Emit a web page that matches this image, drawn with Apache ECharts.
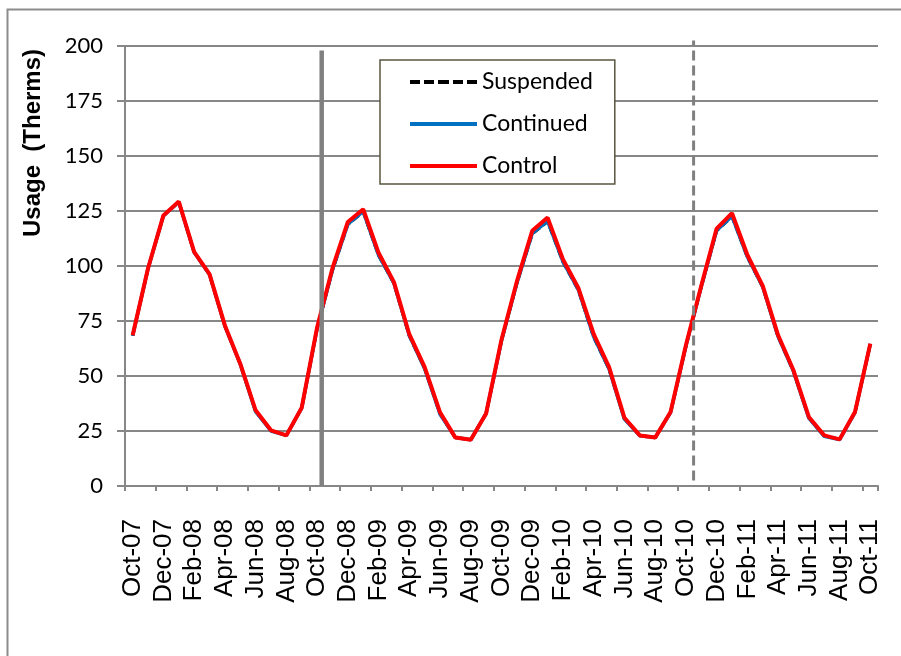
<!DOCTYPE html>
<html>
<head>
<meta charset="utf-8">
<script src="https://cdn.jsdelivr.net/npm/echarts@6/dist/echarts.min.js"></script>
<style>
  html, body { margin: 0; padding: 0; background: #fff; }
  #chart { width: 901px; height: 656px; }
</style>
</head>
<body>
<div id="chart"></div>
<script>
// Monthly gas usage per customer group, Oct 2007 - Oct 2011
const months = [
  'Oct-07','Nov-07','Dec-07','Jan-08','Feb-08','Mar-08','Apr-08','May-08','Jun-08','Jul-08','Aug-08','Sep-08',
  'Oct-08','Nov-08','Dec-08','Jan-09','Feb-09','Mar-09','Apr-09','May-09','Jun-09','Jul-09','Aug-09','Sep-09',
  'Oct-09','Nov-09','Dec-09','Jan-10','Feb-10','Mar-10','Apr-10','May-10','Jun-10','Jul-10','Aug-10','Sep-10',
  'Oct-10','Nov-10','Dec-10','Jan-11','Feb-11','Mar-11','Apr-11','May-11','Jun-11','Jul-11','Aug-11','Sep-11',
  'Oct-11'
];

const suspended = [
  68.3, 98.8, 122.8, 129.0, 106.2, 96.0, 72.6, 55.5, 34.0, 25.2, 23.0, 35.4,
  71.5, 98.0, 118.8, 124.6, 104.8, 92.0, 68.2, 53.4, 32.8, 22.0, 21.0, 33.0,
  66.0, 92.0, 114.6, 120.2, 101.8, 89.0, 67.6, 53.0, 30.6, 23.0, 22.0, 33.4,
  63.5, 90.5, 116.0, 122.4, 104.0, 90.4, 67.8, 52.0, 31.0, 22.8, 21.2, 33.4,
  64.5
];
const continued = [
  68.4, 98.9, 122.9, 129.1, 106.3, 96.1, 72.7, 55.4, 33.8, 25.0, 23.0, 35.5,
  71.6, 98.2, 119.0, 124.8, 104.9, 92.2, 68.4, 53.3, 32.6, 22.0, 21.0, 33.0,
  66.0, 92.2, 114.8, 120.4, 102.0, 89.2, 67.8, 53.2, 30.4, 22.8, 22.0, 33.4,
  63.6, 90.6, 116.2, 122.6, 104.2, 90.5, 67.9, 52.1, 30.8, 22.6, 21.1, 33.4,
  64.6
];
const control = [
  68.5, 99.0, 123.0, 129.3, 106.4, 96.3, 73.0, 55.6, 34.4, 25.3, 23.0, 35.6,
  72.0, 99.0, 120.0, 125.8, 106.0, 92.7, 69.0, 54.0, 33.5, 22.0, 21.0, 33.0,
  66.5, 93.0, 116.0, 122.0, 103.0, 90.0, 69.0, 54.0, 31.0, 23.0, 22.0, 33.6,
  64.0, 91.0, 117.0, 124.0, 105.0, 91.0, 68.5, 52.6, 31.4, 23.0, 21.2, 33.6,
  64.7
];

// Programme milestones, in month units from the start of Oct-07
const solidMarker = [[12.8, 0], [12.8, 198]];
const dashedMarker = [[37, 2.5], [37, 202.5]];

const yTicks = { min: 0, max: 200, interval: 25 };
const yTitle = 'Usage  (Therms)';

const sans = "'Liberation Sans', Arial, sans-serif";
const humanist = "Lato, 'Liberation Sans', sans-serif";
const grid = '#878787';

// legend swatches: a dashed bar and two solid bars
const dashIcon = 'path://M0,0h10v4h-10z M14,0h10v4h-10z M28,0h11v4h-11z M43,0h10v4h-10z M57,0h10v4h-10z';
const solidIcon = 'path://M0,0h67v4h-67z';

const chart = echarts.init(document.getElementById('chart'), null, { renderer: 'canvas' });

chart.setOption({
  animation: false,
  backgroundColor: '#ffffff',
  graphic: [{
    type: 'rect',
    shape: { x: 7.5, y: 9.5, width: 1000, height: 1000 },
    style: { fill: 'none', stroke: '#8c8c8c', lineWidth: 2 },
    silent: true,
    z: 0
  }, {
    // value-axis title, set high beside the upper part of the axis
    type: 'text',
    x: 33,
    y: 143,
    rotation: Math.PI / 2,
    style: {
      text: yTitle,
      font: "bold 24px 'Liberation Sans', Arial, sans-serif",
      fill: '#000',
      align: 'center',
      verticalAlign: 'middle'
    },
    silent: true,
    z: 10
  }],
  grid: { left: 125, right: 23, top: 46, bottom: 170, containLabel: false },
  legend: {
    data: [
      { name: 'Suspended', icon: dashIcon, itemStyle: { color: '#000000' } },
      { name: 'Continued', icon: solidIcon, itemStyle: { color: '#0070c0' } },
      { name: 'Control', icon: solidIcon, itemStyle: { color: '#ff0000' } }
    ],
    orient: 'vertical',
    left: 380,
    top: 60,
    padding: [7, 22, 3, 30],
    itemWidth: 67,
    itemHeight: 4,
    itemGap: 12,
    backgroundColor: '#ffffff',
    borderColor: '#5a5640',
    borderWidth: 1.5,
    borderRadius: 0,
    textStyle: { fontFamily: humanist, fontSize: 23, color: '#000', lineHeight: 30 }
  },
  xAxis: [{
    type: 'category',
    data: months,
    boundaryGap: true,
    axisLine: { lineStyle: { color: grid, width: 2 } },
    axisTick: { show: true, interval: 1, length: 5, lineStyle: { color: grid, width: 2 } },
    axisLabel: {
      interval: 1,
      rotate: 90,
      margin: 33,
      fontFamily: sans,
      fontSize: 26,
      color: '#000'
    },
    splitLine: { show: false }
  }, {
    type: 'value',
    min: 0,
    max: months.length,
    show: false
  }],
  yAxis: {
    type: 'value',
    min: yTicks.min,
    max: yTicks.max,
    interval: yTicks.interval,
    axisLine: { show: true, lineStyle: { color: grid, width: 2 } },
    axisTick: { show: true, length: 8, lineStyle: { color: grid, width: 2 } },
    axisLabel: { margin: 22, fontFamily: humanist, fontSize: 22, color: '#000' },
    splitLine: { lineStyle: { color: grid, width: 2 } }
  },
  series: [
    {
      name: 'Suspended', type: 'line', data: suspended, symbol: 'none',
      lineStyle: { color: '#000000', width: 3, type: [8, 4] },
      itemStyle: { color: '#000000' }, z: 3
    },
    {
      name: 'Continued', type: 'line', data: continued, symbol: 'none',
      lineStyle: { color: '#0070c0', width: 3.5 },
      itemStyle: { color: '#0070c0' }, z: 4
    },
    {
      name: 'Control', type: 'line', data: control, symbol: 'none',
      lineStyle: { color: '#ff0000', width: 4 },
      itemStyle: { color: '#ff0000' }, z: 5
    },
    {
      name: 'marker-solid', type: 'line', xAxisIndex: 1, data: solidMarker, symbol: 'none',
      clip: false, silent: true,
      lineStyle: { color: '#808080', width: 4.5 }, z: 6
    },
    {
      name: 'marker-dashed', type: 'line', xAxisIndex: 1, data: dashedMarker, symbol: 'none',
      clip: false, silent: true,
      lineStyle: { color: '#808080', width: 3, type: [10, 5] }, z: 6
    }
  ]
});
</script>
</body>
</html>
